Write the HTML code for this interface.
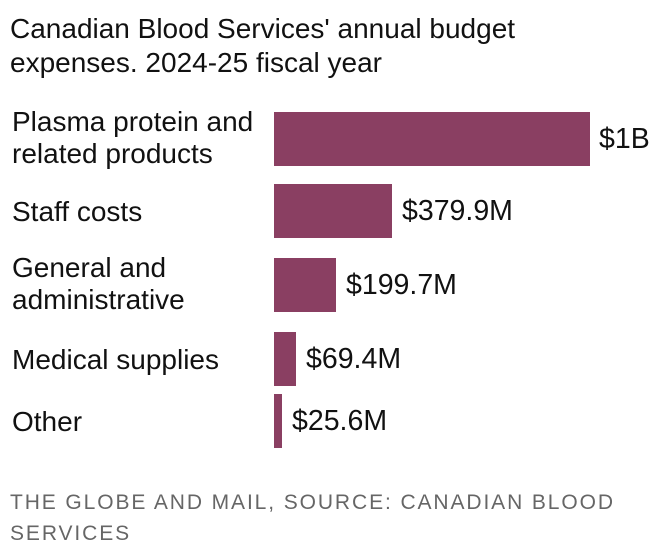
<!DOCTYPE html>
<html><head><style>
body{margin:0;width:660px;height:558px;background:#fff;font-family:"Liberation Sans",sans-serif;color:#111;position:relative;overflow:hidden}
.t{position:absolute;white-space:nowrap}
.title{left:10px;top:12px;font-size:28px;line-height:34px}
.lab{left:12px;font-size:28px;line-height:32px}
.bar{position:absolute;left:274px;background:#8a3f62}
.v{font-size:28.5px;line-height:30px}
.foot{left:10px;top:487px;font-size:21px;line-height:31px;color:#666;letter-spacing:1.9px}
</style></head><body>
<div class="t title">Canadian Blood Services' annual budget<br>expenses. 2024-25 fiscal year</div>
<div class="t lab" style="top:106px">Plasma protein and<br>related products</div>
<div class="t lab" style="top:196px">Staff costs</div>
<div class="t lab" style="top:252px">General and<br>administrative</div>
<div class="t lab" style="top:344px">Medical supplies</div>
<div class="t lab" style="top:406px">Other</div>
<div class="bar" style="top:112px;width:316px;height:54px"></div>
<div class="bar" style="top:184px;width:118px;height:54px"></div>
<div class="bar" style="top:258px;width:62px;height:54px"></div>
<div class="bar" style="top:332px;width:22px;height:54px"></div>
<div class="bar" style="top:394px;width:8px;height:54px"></div>
<div class="t v" style="left:599px;top:124px">$1B</div>
<div class="t v" style="left:402px;top:196px">$379.9M</div>
<div class="t v" style="left:346px;top:270px">$199.7M</div>
<div class="t v" style="left:306px;top:344px">$69.4M</div>
<div class="t v" style="left:292px;top:406px">$25.6M</div>
<div class="t foot">THE GLOBE AND MAIL, SOURCE: CANADIAN BLOOD<br>SERVICES</div>
</body></html>
